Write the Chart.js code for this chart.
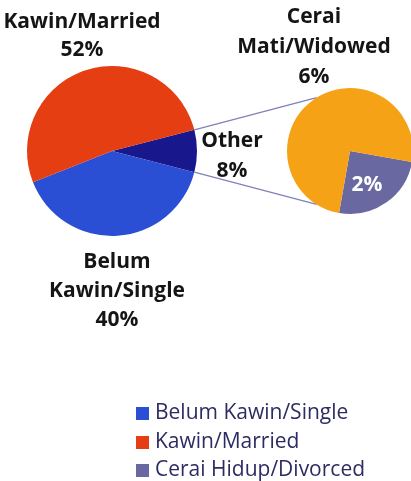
<!DOCTYPE html>
<html>
<head>
<meta charset="utf-8">
<script src="https://cdn.jsdelivr.net/npm/chart.js@4/dist/chart.umd.min.js"></script>
<style>
  html, body { margin: 0; padding: 0; background: #fff; overflow: hidden; }
  #wrap { position: relative; width: 411px; height: 481px; overflow: hidden; }
  .layer { position: absolute; left: 0; top: 0; height: 481px; }
  #mainLayer { width: 411px; }
  #subLayer { width: 415px; }
</style>
</head>
<body>
<div id="wrap">
  <div class="layer" id="mainLayer"><canvas id="mainPie"></canvas></div>
  <div class="layer" id="subLayer"><canvas id="subPie"></canvas></div>
</div>
<script>
// main pie: "Other" groups the two Cerai categories
const mainLabels = ['Other', 'Belum Kawin/Single', 'Kawin/Married'];
const mainValues = [8, 40, 52];

// secondary pie (breakdown of Other)
const subLabels = ['Cerai Hidup/Divorced', 'Cerai Mati/Widowed'];
const subValues = [2, 6];

// legend entries as they appear on the picture
const legendLabels = ['Belum Kawin/Single', 'Kawin/Married', 'Cerai Hidup/Divorced'];

const COLORS = {
    'Other': 'rgb(24,24,140)',
    'Belum Kawin/Single': 'rgb(42,78,212)',
    'Kawin/Married': 'rgb(228,62,18)',
    'Cerai Hidup/Divorced': 'rgb(106,104,160)',
    'Cerai Mati/Widowed': 'rgb(246,162,22)'
};

const LABEL_FONT = 'bold 21px "Open Sans", sans-serif';
const LEGEND_FONT = '21px "Open Sans", sans-serif';

function drawLines(ctx, lines, x, y, step) {
    lines.forEach((t, i) => ctx.fillText(t, x, y + i * step));
}

const mainLabelPlugin = {
    id: 'mainLabels',
    afterDraw(chart) {
        const ctx = chart.ctx;
        const arcs = chart.getDatasetMeta(0).data;
        const cx = arcs[0].x, cy = arcs[0].y;
        ctx.save();
        ctx.font = LABEL_FONT;
        ctx.fillStyle = '#151515';
        ctx.textAlign = 'center';
        ctx.textBaseline = 'middle';
        drawLines(ctx, ['Kawin/Married', mainValues[2] + '%'], cx - 30, cy - 129, 28);
        drawLines(ctx, ['Belum', 'Kawin/Single', mainValues[1] + '%'], cx + 5, cy + 111, 29);
        drawLines(ctx, ['Other', mainValues[0] + '%'], cx + 120, cy - 10, 30);

        // legend
        ctx.font = LEGEND_FONT;
        ctx.textAlign = 'left';
        const rows = [413, 442, 470];
        legendLabels.forEach((lab, i) => {
            ctx.fillStyle = COLORS[lab];
            ctx.fillRect(136, rows[i] - 6, 13, 13);
            ctx.fillStyle = '#2c2c62';
            ctx.fillText(lab, 155, rows[i]);
        });
        ctx.restore();
    }
};

const mainChart = new Chart(document.getElementById('mainPie'), {
    type: 'pie',
    data: {
        labels: mainLabels,
        datasets: [{
            data: mainValues,
            backgroundColor: mainLabels.map(l => COLORS[l]),
            borderWidth: 0
        }]
    },
    options: {
        responsive: true,
        maintainAspectRatio: false,
        animation: false,
        rotation: 90 - mainValues[0] / 100 * 180,
        layout: { padding: { left: 27, top: 66, right: 214, bottom: 245 } },
        plugins: {
            legend: { display: false },
            tooltip: { enabled: false }
        }
    },
    plugins: [mainLabelPlugin]
});

const subPlugin = {
    id: 'subLabels',
    beforeDatasetsDraw(chart) {
        // connectors from the Other slice to the secondary pie
        const other = mainChart.getDatasetMeta(0).data[0];
        const sub = chart.getDatasetMeta(0).data[0];
        const ctx = chart.ctx;
        const a = 122 * Math.PI / 180;
        ctx.save();
        ctx.strokeStyle = 'rgb(128,128,186)';
        ctx.lineWidth = 1.3;
        [other.startAngle, other.endAngle].forEach((ang, i) => {
            const s = i === 0 ? -1 : 1;
            ctx.beginPath();
            ctx.moveTo(other.x + other.outerRadius * Math.cos(ang), other.y + other.outerRadius * Math.sin(ang));
            ctx.lineTo(sub.x + sub.outerRadius * Math.cos(s * a), sub.y + sub.outerRadius * Math.sin(s * a));
            ctx.stroke();
        });
        ctx.restore();
    },
    afterDraw(chart) {
        const ctx = chart.ctx;
        const sub = chart.getDatasetMeta(0).data[0];
        ctx.save();
        ctx.font = LABEL_FONT;
        ctx.textAlign = 'center';
        ctx.textBaseline = 'middle';
        ctx.fillStyle = '#151515';
        drawLines(ctx, ['Cerai', 'Mati/Widowed', subValues[1] + '%'], sub.x - 36, sub.y - 134, 30);
        ctx.fillStyle = '#ffffff';
        ctx.fillText(subValues[0] + '%', sub.x + 17, sub.y + 34);
        ctx.restore();
    }
};

new Chart(document.getElementById('subPie'), {
    type: 'pie',
    data: {
        labels: subLabels,
        datasets: [{
            data: subValues,
            backgroundColor: subLabels.map(l => COLORS[l]),
            borderWidth: 0
        }]
    },
    options: {
        responsive: true,
        maintainAspectRatio: false,
        animation: false,
        rotation: 100,
        layout: { padding: { left: 287, top: 88, right: 2, bottom: 267 } },
        plugins: {
            legend: { display: false },
            tooltip: { enabled: false }
        }
    },
    plugins: [subPlugin]
});
</script>
</body>
</html>
